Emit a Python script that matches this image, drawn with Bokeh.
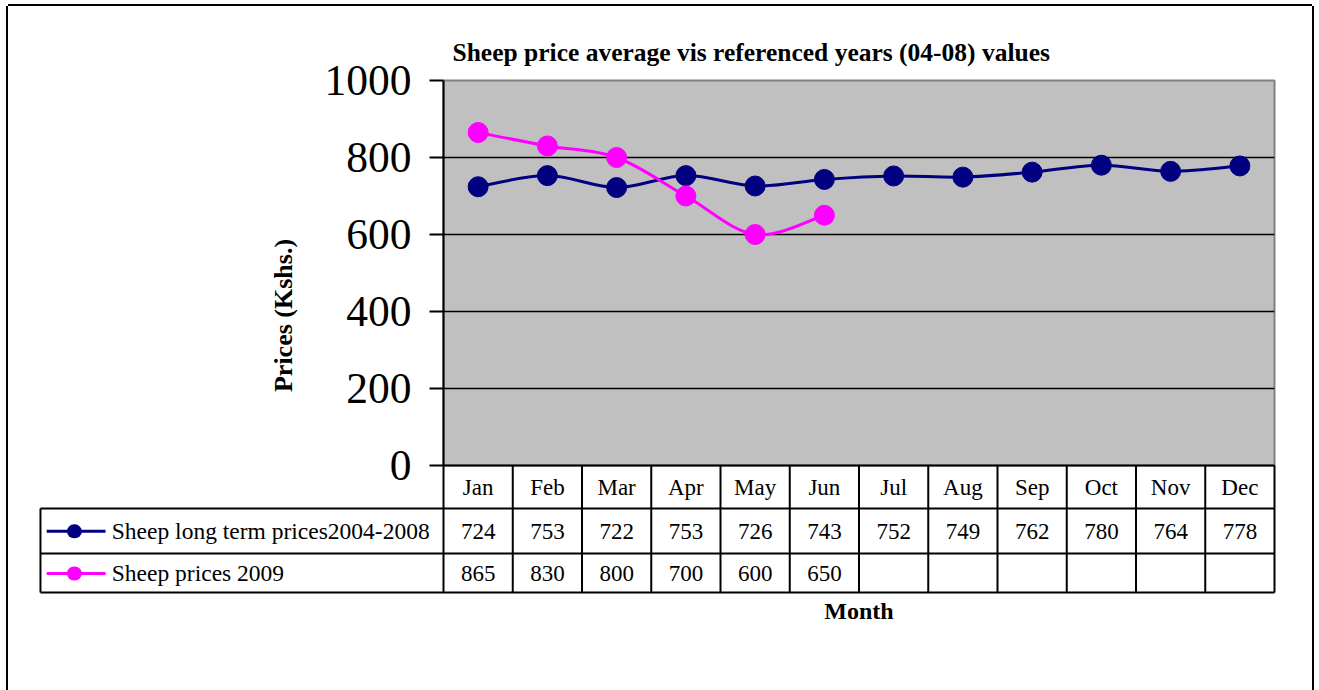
from bokeh.plotting import figure
from bokeh.models import FixedTicker, Range1d, ColumnDataSource
from bokeh.core.properties import value
from bokeh.embed import file_html
from bokeh.resources import INLINE
import math

# ---- data ----
months = ["Jan", "Feb", "Mar", "Apr", "May", "Jun", "Jul", "Aug", "Sep", "Oct", "Nov", "Dec"]
long_term = [724, 753, 722, 753, 726, 743, 752, 749, 762, 780, 764, 778]
prices_2009 = [865, 830, 800, 700, 600, 650]
series_names = ["Sheep long term prices2004-2008", "Sheep prices 2009"]
y_ticks = [0, 200, 400, 600, 800, 1000]
title_text = "Sheep price average vis referenced years (04-08) values"
y_label = "Prices (Kshs.)"
x_label = "Month"

NAVY = "#000080"
MAGENTA = "#FF00FF"
SERIF = "Liberation Serif"

# ---- layout constants (data units of the chart) ----
LEG_LEFT = -5.82
ROW_H1 = -111.7
ROW_H2 = -228.6
ROW_H3 = -329.9
ROW1_MID = -171.0
ROW2_MID = -280.5

p = figure(frame_width=831, frame_height=385,
           min_border_left=435, min_border_right=38, min_border_top=74, min_border_bottom=225,
           x_range=Range1d(0, 12), y_range=Range1d(0, 1000),
           output_backend="svg", toolbar_location=None, tools="")
p.styles = {"margin-left": "8px", "margin-top": "6px",
            "box-shadow": "-2px 0 0 0 #000, 2px 0 0 0 #000, 0 -2px 0 0 #000"}

p.background_fill_color = "#C0C0C0"
p.border_fill_color = "white"
p.outline_line_color = "#808080"
p.outline_line_width = 2

# title
p.title.text = title_text
p.title.align = "left"
p.title.offset = 9
p.title.text_font = SERIF
p.title.text_font_size = "25.5px"
p.title.text_font_style = "bold"
p.title.text_color = "black"
p.title.standoff = 27

# y axis
p.yaxis.ticker = FixedTicker(ticks=y_ticks)
p.yaxis.major_label_text_font = SERIF
p.yaxis.major_label_text_font_size = "43.5px"
p.yaxis.major_label_text_color = "black"
p.yaxis.major_tick_out = 14
p.yaxis.major_tick_in = 0
p.yaxis.major_tick_line_width = 2
p.yaxis.major_tick_line_color = "black"
p.yaxis.minor_tick_line_color = None
p.yaxis.axis_line_width = 2
p.yaxis.axis_line_color = "black"
p.yaxis.major_label_standoff = 18

# x axis (month header row of the data table)
p.xaxis.ticker = FixedTicker(ticks=[i + 0.5 for i in range(12)])
p.xaxis.major_label_overrides = {i + 0.5: m for i, m in enumerate(months)}
p.xaxis.major_label_text_font = SERIF
p.xaxis.major_label_text_font_size = "23px"
p.xaxis.major_label_text_color = "black"
p.xaxis.major_tick_out = 0
p.xaxis.major_tick_in = 0
p.xaxis.minor_tick_line_color = None
p.xaxis.axis_line_color = None
p.xaxis.major_label_standoff = 9
p.xaxis.axis_label = x_label
p.xaxis.axis_label_text_font = SERIF
p.xaxis.axis_label_text_font_size = "24px"
p.xaxis.axis_label_text_font_style = "bold"
p.xaxis.axis_label_text_color = "black"
p.xaxis.axis_label_standoff = 95

# grid
p.xgrid.grid_line_color = None
p.ygrid.ticker = FixedTicker(ticks=[200, 400, 600, 800])
p.ygrid.grid_line_color = "black"
p.ygrid.grid_line_width = 1.5

# y label (placed as text so it can sit off-centre like the original)
r = p.text([-2.31], [389.6], text=[y_label], angle=math.pi / 2,
           text_font=value(SERIF), text_font_size="26px", text_font_style="bold",
           text_align="center", text_baseline="middle", text_color="black")
r.level = "annotation"


# smoothed lines (cubic Bezier segments, Catmull-Rom style control points)
def bezier_source(vals):
    xs = [i + 0.5 for i in range(len(vals))]
    n = len(vals)
    d = dict(x0=[], y0=[], x1=[], y1=[], cx0=[], cy0=[], cx1=[], cy1=[])
    for i in range(n - 1):
        pm = i - 1 if i > 0 else i
        pp = i + 2 if i + 2 < n else i + 1
        d["x0"].append(xs[i]); d["y0"].append(vals[i])
        d["x1"].append(xs[i + 1]); d["y1"].append(vals[i + 1])
        d["cx0"].append(xs[i] + (xs[i + 1] - xs[pm]) / 6)
        d["cy0"].append(vals[i] + (vals[i + 1] - vals[pm]) / 6)
        d["cx1"].append(xs[i + 1] - (xs[pp] - xs[i]) / 6)
        d["cy1"].append(vals[i + 1] - (vals[pp] - vals[i]) / 6)
    return ColumnDataSource(d)


for vals, col in [(long_term, NAVY), (prices_2009, MAGENTA)]:
    p.bezier(x0="x0", y0="y0", x1="x1", y1="y1", cx0="cx0", cy0="cy0", cx1="cx1", cy1="cy1",
             source=bezier_source(vals), line_color=col, line_width=3)
    p.scatter([i + 0.5 for i in range(len(vals))], vals, size=20, marker="circle",
              fill_color=col, line_color=col)

# ---- data table ----
hx0 = [0, LEG_LEFT, LEG_LEFT, LEG_LEFT]
hx1 = [12, 12, 12, 12]
hy = [0, ROW_H1, ROW_H2, ROW_H3]
r = p.segment(x0=hx0, y0=hy, x1=hx1, y1=hy, line_color="black", line_width=2)
r.level = "annotation"
vx = list(range(13)) + [LEG_LEFT]
vy0 = [0] * 13 + [ROW_H1]
vy1 = [ROW_H3] * 14
r = p.segment(x0=vx, y0=vy0, x1=vx, y1=vy1, line_color="black", line_width=2)
r.level = "annotation"

for vals, mid in [(long_term, ROW1_MID), (prices_2009, ROW2_MID)]:
    r = p.text([i + 0.5 for i in range(len(vals))], [mid] * len(vals), text=[str(v) for v in vals],
               text_font=value(SERIF), text_font_size="23px", text_align="center",
               text_baseline="middle", text_color="black")
    r.level = "annotation"

# legend keys inside table
for name, col, mid in [(series_names[0], NAVY, ROW1_MID), (series_names[1], MAGENTA, ROW2_MID)]:
    r = p.segment(x0=[-5.73], y0=[mid], x1=[-4.88], y1=[mid], line_color=col, line_width=3)
    r.level = "annotation"
    r = p.segment(x0=[-5.336], y0=[mid], x1=[-5.324], y1=[mid], line_color=col,
                  line_width=14, line_cap="round")
    r.level = "annotation"
    r = p.text([-4.79], [mid], text=[name], text_font=value(SERIF), text_font_size="23.5px",
               text_align="left", text_baseline="middle", text_color="black")
    r.level = "annotation"

open("out.html", "w").write(file_html(p, INLINE))
